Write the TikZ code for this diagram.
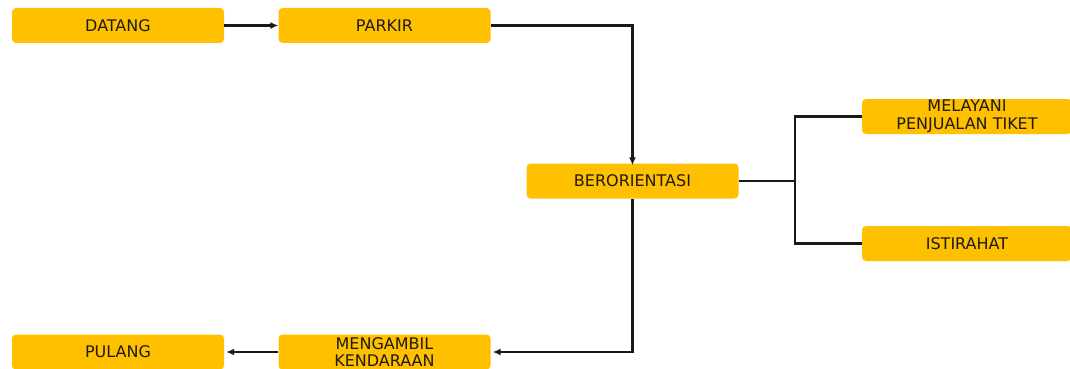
\documentclass[tikz,border=0pt]{standalone}
\usepackage{fontspec}
\setmainfont{DejaVu Sans}
\usetikzlibrary{arrows.meta}
\definecolor{boxgold}{HTML}{FFC000}
\definecolor{boxtext}{HTML}{1E1A14}
\tikzset{
  stepbox/.style={fill=boxgold, rounded corners=4pt, minimum width=212pt, minimum height=35pt,
    inner sep=0pt, align=center, font=\fontsize{16pt}{17.5pt}\selectfont, text=boxtext},
  sidebox/.style={stepbox, minimum width=210pt},
  conn/.style={line width=2.4pt, draw=black!90},
  arr/.style={conn, -{Latex[length=8pt,width=7pt]}}
}
\begin{document}
\begin{tikzpicture}[x=1pt,y=-1pt]
\useasboundingbox (0,0) rectangle (1070,369);
\node[stepbox] (datang) at (118,25.5) {DATANG};
\node[stepbox] (parkir) at (384.5,25.5) {PARKIR};
\node[stepbox] (orient) at (632.5,181) {BERORIENTASI};
\node[sidebox] (tiket) at (967,116.5) {MELAYANI\\PENJUALAN TIKET};
\node[sidebox] (istirahat) at (967,243.5) {ISTIRAHAT};
\node[stepbox] (pulang) at (118,352) {PULANG};
\node[stepbox] (ambil) at (384.5,352) {MENGAMBIL\\KENDARAAN};
\coordinate (fork) at (795,181);
\draw[arr] (datang.east) -- (parkir.west);
\draw[arr] (parkir.east) -- (orient.north |- parkir.east) -- ([yshift=-2pt]orient.north);
\draw[arr] (orient.south) -- (orient.south |- ambil.east) -- ([xshift=2pt]ambil.east);
\draw[arr] (ambil.west) -- ([xshift=2pt]pulang.east);
\draw[conn] (orient.east) -- (fork);
\draw[conn] (tiket.west) -- (fork |- tiket.west) -- (fork |- istirahat.west) -- (istirahat.west);
\end{tikzpicture}
\end{document}
